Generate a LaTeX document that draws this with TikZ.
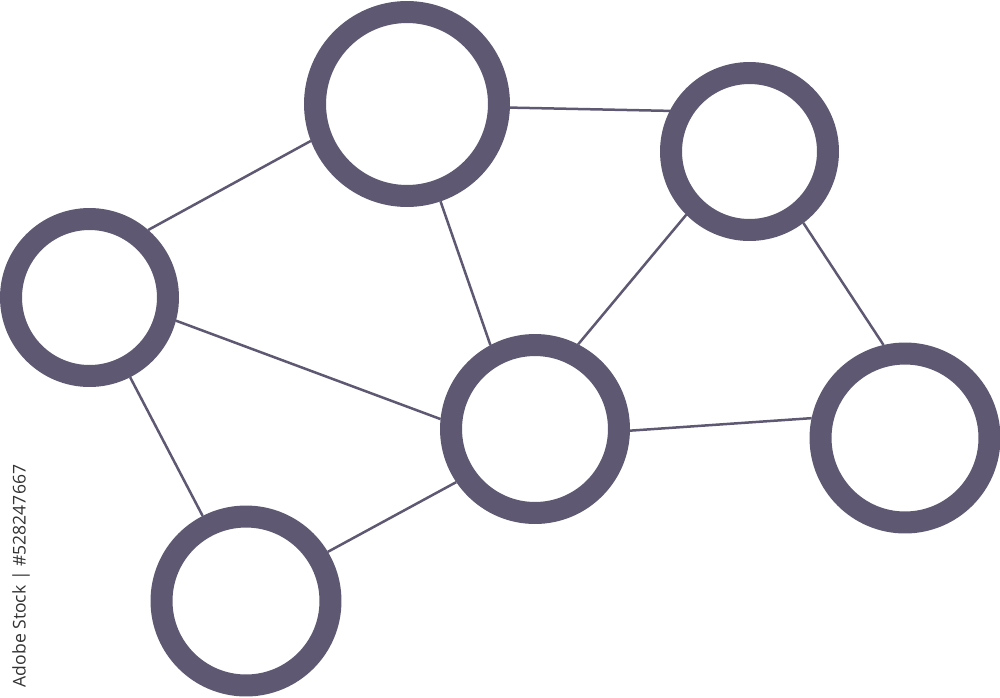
\documentclass[tikz,border=0pt]{standalone}
\usepackage{fontspec}
\newfontfamily\stockfont{Open Sans}
\definecolor{netpurple}{RGB}{94,88,115}
\begin{document}
\begin{tikzpicture}[x=0.02cm, y=-0.02cm,
		hub/.style={circle, draw=netpurple, line width=0.44cm, fill=white, inner sep=0},
		link/.style={draw=netpurple, line width=0.05cm}]
		\useasboundingbox (0, 0) rectangle (1000, 697);
		\node[hub, minimum size=3.68cm] (top) at (407, 104) {};
		\node[hub, minimum size=3.14cm] (topright) at (749.5, 151.5) {};
		\node[hub, minimum size=3.14cm] (left) at (89.5, 297.5) {};
		\node[hub, minimum size=3.36cm] (middle) at (535, 429) {};
		\node[hub, minimum size=3.38cm] (right) at (905, 438) {};
		\node[hub, minimum size=3.38cm] (bottom) at (246, 601) {};
		
		\draw[link] (top.358) -- (topright.153);
		\draw[link] (top.201) -- (left.49.5);
		\draw[link] (top.289.5) -- (middle.118);
		\draw[link] (topright.225.5) -- (middle.63);
		\draw[link] (topright.307) -- (right.103);
		\draw[link] (left.345) -- (middle.174.5);
		\draw[link] (left.297) -- (bottom.117.5);
		\draw[link] (middle.359.5) -- (right.168);
		\draw[link] (middle.214) -- (bottom.31);
		
		\node[rotate=90, text=black!80, font=\stockfont\fontsize{10}{12}\selectfont] (stockid) at (21, 576) {Adobe Stock | \#528247667};
	\end{tikzpicture}
\end{document}
